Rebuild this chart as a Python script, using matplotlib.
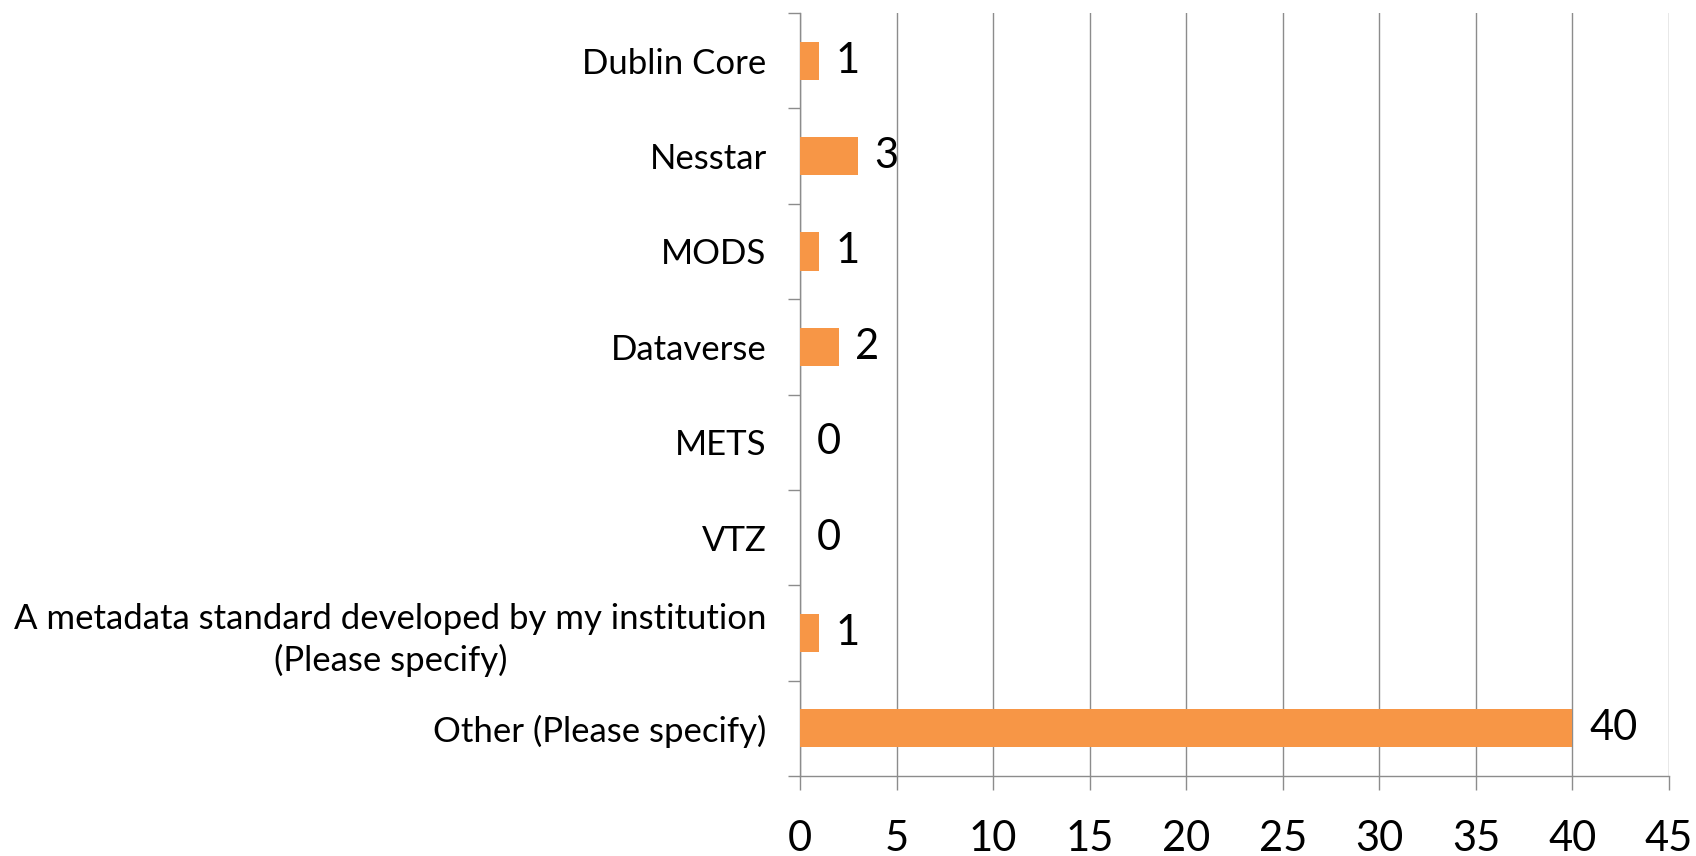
import numpy as np
import matplotlib.pyplot as plt
from matplotlib.ticker import FixedLocator

# Data (top to bottom as shown)
categories = ["Dublin Core", "Nesstar", "MODS", "Dataverse", "METS", "VTZ",
              "A metadata standard developed by my institution\n(Please specify)",
              "Other (Please specify)"]
values = [1, 3, 1, 2, 0, 0, 1, 40]
x_ticks = [0, 5, 10, 15, 20, 25, 30, 35, 40, 45]

plt.rcParams['font.family'] = ['Lato', 'DejaVu Sans']

grey = "#8c8c8c"
orange = "#F79646"

fig = plt.figure(figsize=(16.96, 8.56), dpi=100)
ax = fig.add_axes([800 / 1696, 1 - 776 / 856, (1669 - 800) / 1696, (776 - 13) / 856])

n = len(categories)
centers = np.arange(n) + 0.5
ax.barh(centers, values, height=0.4, color=orange, zorder=3)

for y, v in zip(centers, values):
    ax.annotate(str(v), (v, y), xytext=(12, 0), textcoords="offset points",
                ha="left", va="center", fontsize=30, color="black")

ax.set_xlim(0, 45)
ax.set_ylim(n, 0)
ax.set_xticks(x_ticks)
ax.set_xticklabels([str(t) for t in x_ticks])
ax.xaxis.grid(True, color=grey, linewidth=1.0, zorder=0)

# category boundaries as major ticks, labels on minor ticks at centers
ax.yaxis.set_major_locator(FixedLocator(np.arange(n + 1)))
ax.set_yticklabels([])
ax.yaxis.set_minor_locator(FixedLocator(centers))
ax.set_yticklabels(categories, minor=True, fontsize=25, linespacing=1.3)
ax.tick_params(axis="y", which="major", length=9, width=1.0, color=grey, direction="out")
ax.tick_params(axis="y", which="minor", length=0, pad=24)
ax.tick_params(axis="x", length=10, width=1.0, color=grey, direction="out", labelsize=30, pad=22)

for s in ["top", "right"]:
    ax.spines[s].set_visible(False)
for s in ["left", "bottom"]:
    ax.spines[s].set_color(grey)
    ax.spines[s].set_linewidth(1.0)

for lab in ax.get_yticklabels(minor=True):
    lab.set_multialignment("center")

fig.savefig("out.png", dpi=100)
